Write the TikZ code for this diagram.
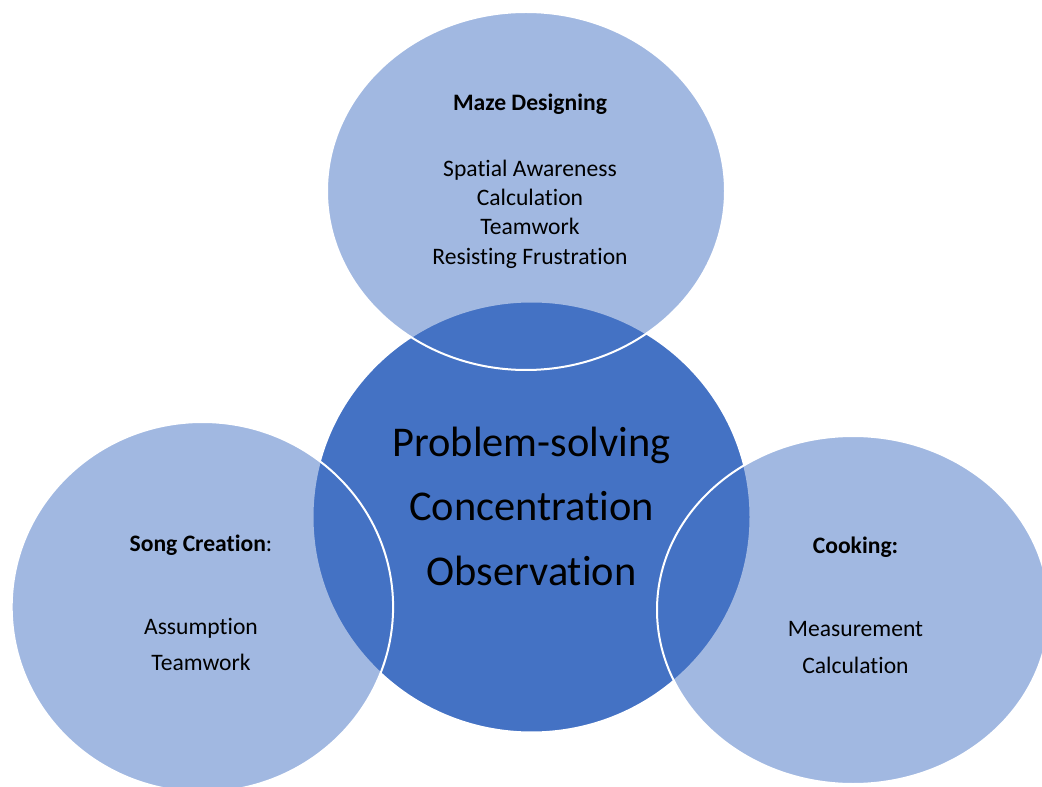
\documentclass[tikz,border=0pt]{standalone}
\usepackage{fontspec}
\setmainfont{Carlito}[Ligatures=NoCommon]
\begin{document}
\begin{tikzpicture}[x=0.75pt,y=-0.75pt,
  hub/.style={fill=accent,draw=white,line width=1.5pt},
  petal/.style={fill=accent,fill opacity=0.5,draw=white,draw opacity=1,line width=1.5pt},
  small/.style={font=\fontsize{17.7}{21}\selectfont,anchor=base,inner sep=0pt},
  big/.style={font=\fontsize{31.8}{38}\selectfont,anchor=base,inner sep=0pt}]
\definecolor{accent}{HTML}{4472C4}
\useasboundingbox (0,0) rectangle (1042,787);
\clip (0,0) rectangle (1042,787);

% central circle
\path[hub] (531.5,517) ellipse [x radius=219, y radius=215.5];

% translucent outer circles
\path[petal] (526,191) ellipse [x radius=199, y radius=179];
\path[petal] (202.4,607) ellipse [x radius=190.7, y radius=185];
\path[petal] (853,610) ellipse [x radius=196, y radius=174];

% centre text
\node[big] (c1) at (531.5,456.7) {Problem-solving};
\node[big] (c2) at (531.5,520.5) {Concentration};
\node[big] (c3) at (531.5,585) {Observation};

% top circle text
\node[small] (t0) at (530,111) {\textbf{Maze Designing}};
\node[small] (t1) at (530,176.7) {Spatial Awareness};
\node[small] (t2) at (530,205.8) {Calculation};
\node[small] (t3) at (530,235) {Teamwork};
\node[small] (t4) at (530,264.5) {Resisting Frustration};

% left circle text
\node[small] (l0) at (201,551.7) {\textbf{Song Creation}:};
\node[small] (l1) at (201,634) {Assumption};
\node[small] (l2) at (201,670.5) {Teamwork};

% right circle text
\node[small] (r0) at (855.5,553) {\textbf{Cooking:}};
\node[small] (r1) at (855.5,636.7) {Measurement};
\node[small] (r2) at (855.5,673.3) {Calculation};
\end{tikzpicture}
\end{document}
